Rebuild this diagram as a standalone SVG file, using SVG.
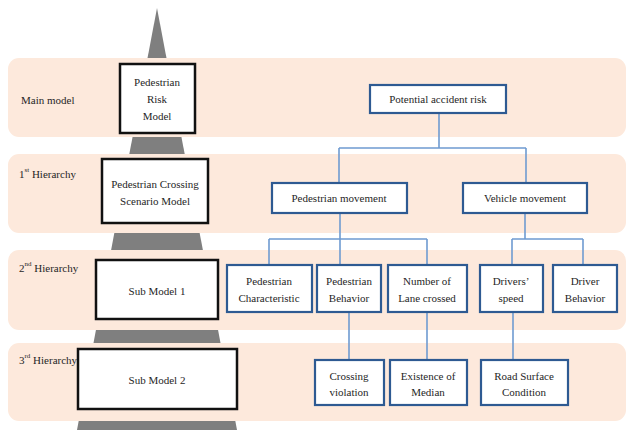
<svg xmlns="http://www.w3.org/2000/svg" width="626" height="430" viewBox="0 0 626 430">
<style>
text{font-size:11px;fill:#262626;text-anchor:middle;dominant-baseline:central}
.lbl{text-anchor:start}
.band{fill:#fde9dc}
.bk{fill:#fff;stroke:#111;stroke-width:2.5}
.bl{fill:#fff;stroke:#2e5a92;stroke-width:2.2}
.cn{fill:none;stroke:#6f9bd1;stroke-width:1.6}
</style>
<rect width="626" height="430" fill="#fff"/>
<polygon points="157,8 77,430 237,430" fill="#7f7f7f"/>
<g id="bands">
<rect class="band" x="8" y="58" width="618" height="79" rx="11"/>
<rect class="band" x="8" y="154" width="618" height="79" rx="11"/>
<rect class="band" x="8" y="250" width="618" height="80" rx="11"/>
<rect class="band" x="8" y="343" width="618" height="78" rx="11"/>
</g>
<g font-family="Liberation Serif">
<g id="labels">
<text class="lbl" x="21" y="100">Main model</text>
<text class="lbl" x="19" y="174">1<tspan font-size="7" dy="-4">st</tspan><tspan dy="4"> Hierarchy</tspan></text>
<text class="lbl" x="19" y="268">2<tspan font-size="7" dy="-4">nd</tspan><tspan dy="4"> Hierarchy</tspan></text>
<text class="lbl" x="19" y="360">3<tspan font-size="7" dy="-4">rd</tspan><tspan dy="4"> Hierarchy</tspan></text>
</g>
<g id="connectors">
<path class="cn" d="M439,113 V148 M339,148 H526 M339,148 V183 M526,148 V183"/>
<path class="cn" d="M340,213 V265 M269,239 H427 M269,239 V265 M427,239 V265"/>
<path class="cn" d="M525,213 V239 M512,239 H583 M512,239 V265 M583,239 V265"/>
<path class="cn" d="M349,312 V360 M427,312 V360 M513,312 V360"/>
</g>
<g id="n-risk-model"><rect class="bk" x="120" y="64" width="75" height="69"/><text x="157" y="82">Pedestrian</text><text x="157" y="99">Risk</text><text x="157" y="116">Model</text></g>
<g id="n-scenario"><rect class="bk" x="102" y="159" width="106" height="64"/><text x="155" y="184">Pedestrian Crossing</text><text x="155" y="201">Scenario Model</text></g>
<g id="n-sub1"><rect class="bk" x="96" y="260" width="122" height="59"/><text x="157" y="291">Sub Model 1</text></g>
<g id="n-sub2"><rect class="bk" x="78" y="349" width="159" height="60"/><text x="157" y="380">Sub Model 2</text></g>
<g id="n-potential"><rect class="bl" x="370" y="85" width="136" height="28"/><text x="438" y="99">Potential accident risk</text></g>
<g id="n-pedmove"><rect class="bl" x="272" y="183" width="135" height="30"/><text x="339" y="198">Pedestrian movement</text></g>
<g id="n-vehmove"><rect class="bl" x="463" y="183" width="124" height="30"/><text x="525" y="198">Vehicle movement</text></g>
<g id="n-pedchar"><rect class="bl" x="227" y="265" width="85" height="47"/><text x="269" y="281">Pedestrian</text><text x="269" y="298">Characteristic</text></g>
<g id="n-pedbeh"><rect class="bl" x="317" y="265" width="64" height="47"/><text x="349" y="281">Pedestrian</text><text x="349" y="298">Behavior</text></g>
<g id="n-lane"><rect class="bl" x="388" y="265" width="79" height="47"/><text x="427" y="281">Number of</text><text x="427" y="298">Lane crossed</text></g>
<g id="n-speed"><rect class="bl" x="480" y="265" width="63" height="47"/><text x="511" y="281">Drivers’</text><text x="511" y="298">speed</text></g>
<g id="n-drvbeh"><rect class="bl" x="553" y="265" width="64" height="47"/><text x="585" y="281">Driver</text><text x="585" y="298">Behavior</text></g>
<g id="n-crossviol"><rect class="bl" x="315" y="360" width="69" height="45"/><text x="349" y="376">Crossing</text><text x="349" y="392">violation</text></g>
<g id="n-median"><rect class="bl" x="390" y="360" width="77" height="45"/><text x="428" y="376">Existence of</text><text x="428" y="392">Median</text></g>
<g id="n-road"><rect class="bl" x="481" y="360" width="87" height="45"/><text x="524" y="376">Road Surface</text><text x="524" y="392">Condition</text></g>
</g>
</svg>
